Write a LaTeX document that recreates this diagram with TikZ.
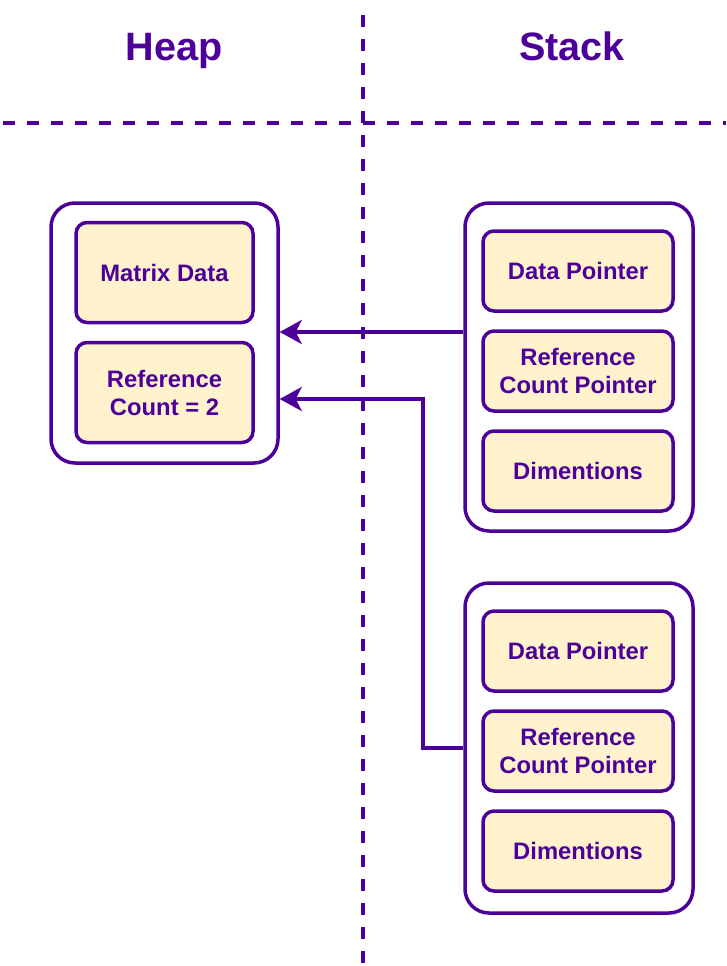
\documentclass[tikz,border=0pt]{standalone}
\usepackage{fontspec}
\setmainfont{Liberation Sans}
\usetikzlibrary{arrows.meta}
\definecolor{pur}{HTML}{4C0099}
\definecolor{cream}{HTML}{FFF2CC}
\tikzset{
  outerbox/.style={draw=pur, line width=3.5pt, rounded corners=24pt, fill=white, inner sep=0pt},
  cell/.style={draw=pur, line width=3.5pt, rounded corners=11pt, fill=cream, inner sep=0pt,
    text=pur, font=\fontsize{23.8}{28}\selectfont\bfseries, align=center},
  title/.style={text=pur, font=\fontsize{39.6}{44}\selectfont\bfseries, anchor=base},
  divider/.style={draw=pur, line width=4pt, dash pattern=on 12pt off 12pt},
  arr/.style={draw=pur, line width=3.5pt, -{Stealth[length=22pt,width=24pt,inset=6pt]}}
}
\begin{document}
\begin{tikzpicture}[x=1pt,y=-1pt]
\useasboundingbox (0,0) rectangle (726,966);
% dividers
\coordinate (vtop) at (363,15);
\coordinate (vbot) at (363,966);
\coordinate (hl) at (3,123);
\coordinate (hr) at (726,123);
\draw[divider] (vtop) -- (vbot);
\draw[divider] (hl) -- (hr);
% titles
\node[title] (theap) at (174,60) {Heap};
\node[title] (tstack) at (572,60) {Stack};
% heap
\node[outerbox, minimum width=227pt, minimum height=260pt] (h) at (164.5,333) {};
\node[cell, minimum width=177pt, minimum height=100pt] (md) at (164.5,272.5) {Matrix Data};
\node[cell, minimum width=177pt, minimum height=100pt] (rc) at (164.5,392.5) {Reference\\Count = 2};
% stack 1
\node[outerbox, minimum width=228pt, minimum height=328pt] (s1) at (579,367) {};
\node[cell, minimum width=190pt, minimum height=80pt] (dp1) at (578,271) {Data Pointer};
\node[cell, minimum width=190pt, minimum height=80pt] (rp1) at (578,371) {Reference\\Count Pointer};
\node[cell, minimum width=190pt, minimum height=80pt] (dm1) at (578,471) {Dimentions};
% stack 2
\node[outerbox, minimum width=228pt, minimum height=330pt] (s2) at (579,748) {};
\node[cell, minimum width=190pt, minimum height=80pt] (dp2) at (578,651) {Data Pointer};
\node[cell, minimum width=190pt, minimum height=80pt] (rp2) at (578,751) {Reference\\Count Pointer};
\node[cell, minimum width=190pt, minimum height=80pt] (dm2) at (578,851) {Dimentions};
% connectors
\draw[arr] (s1.west |- 0,332) -- (h.east |- 0,332);
\coordinate (bend) at (423,399);
\draw[arr] (s2.west) -| (bend) -- (bend -| h.east);
\end{tikzpicture}
\end{document}
